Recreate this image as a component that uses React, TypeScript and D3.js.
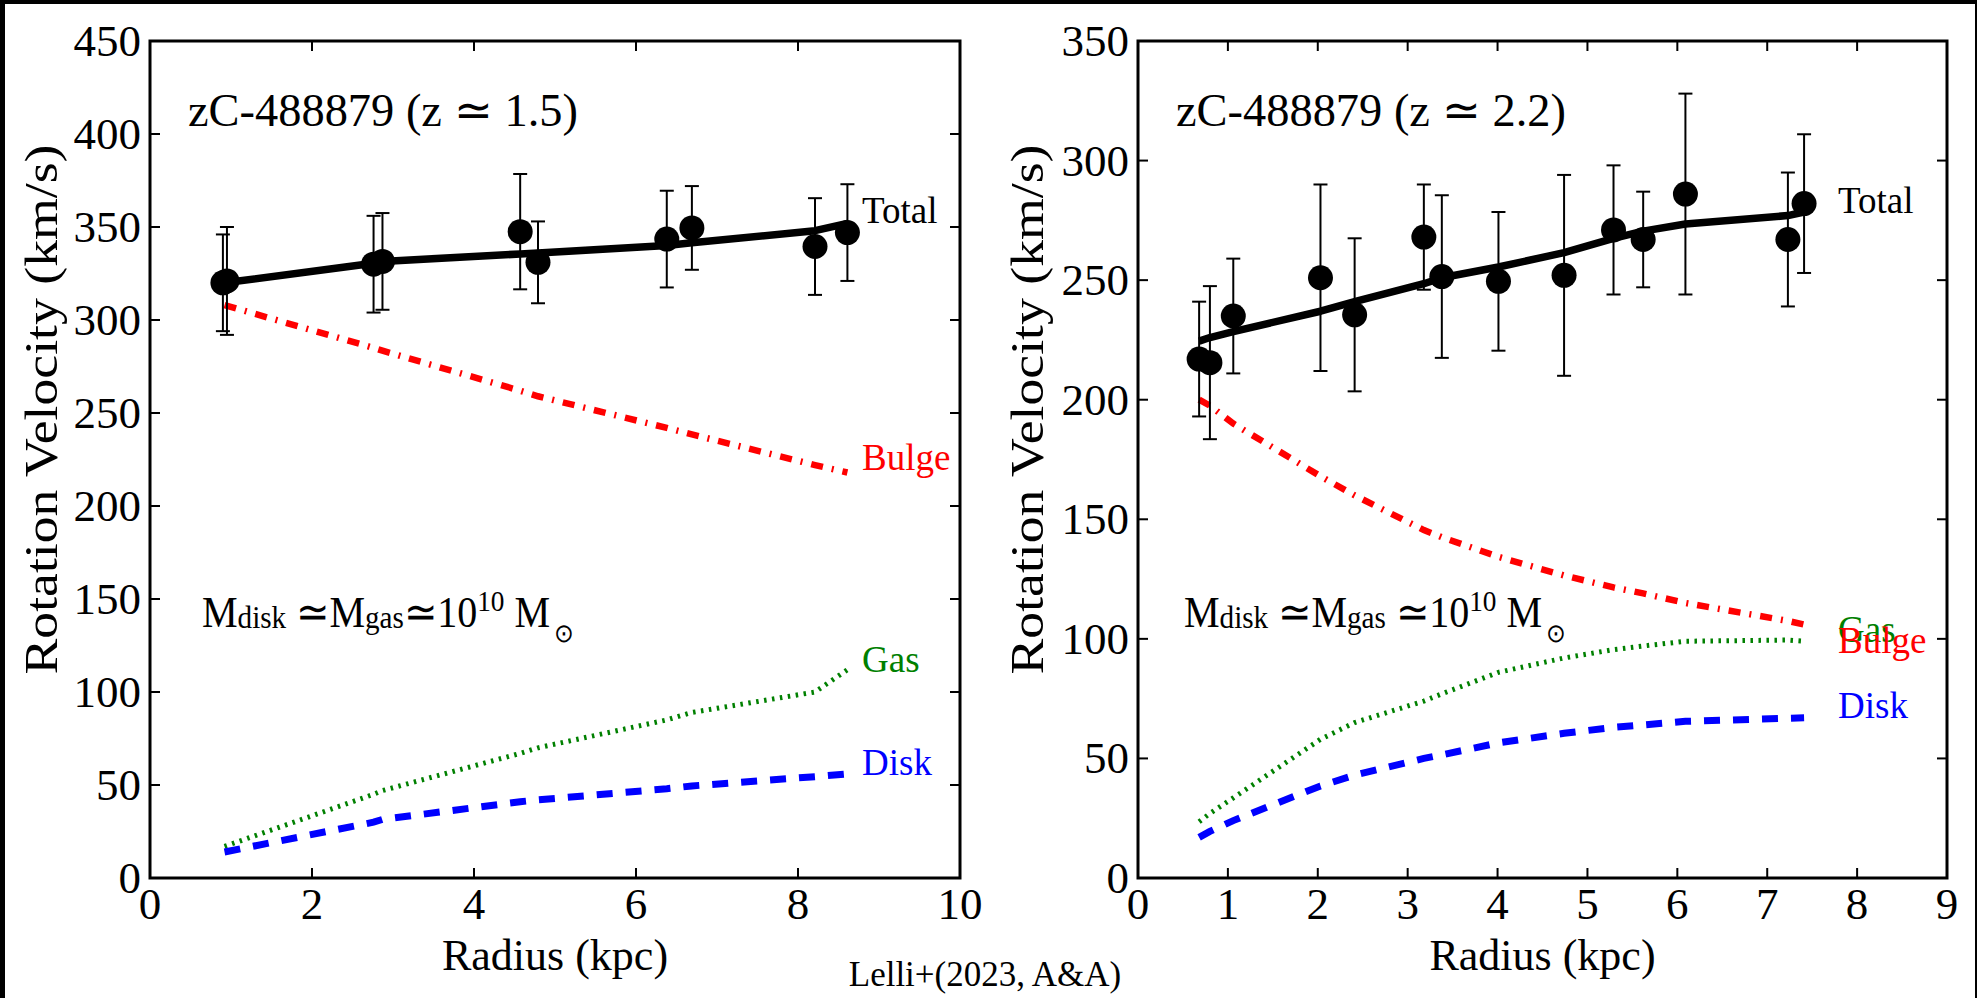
import React from "react";
import * as d3 from "d3";

const W = 1977;
const H = 998;

// ---------- Left panel: zC-488879 (z ~ 1.5) ----------
const leftObsR = [0.9, 0.95, 2.76, 2.87, 4.57, 4.79, 6.38, 6.69, 8.21, 8.61];
const leftObsV = [320, 321, 330, 331.5, 347.5, 331, 343.5, 349.5, 339.5, 347];
const leftObsErr = [26, 29, 26, 26, 31, 22, 26, 22.5, 26, 26];

const leftModelR = [0.92, 2.76, 2.87, 4.57, 4.79, 6.38, 6.69, 8.21, 8.61];
const leftTotal = [320, 330.5, 331.5, 335.5, 336, 340, 341.5, 348, 352];
const leftBulge = [308, 285, 283.5, 262, 259, 242, 238.5, 222, 218];
const leftGas = [17, 45, 47, 67, 70, 85, 89, 100, 112];
const leftDisk = [14, 30, 31.5, 41, 42, 48, 49.5, 54.5, 56];

const leftXTicks = [0, 2, 4, 6, 8, 10];
const leftYTicks = [0, 50, 100, 150, 200, 250, 300, 350, 400, 450];

// ---------- Right panel: zC-488879 (z ~ 2.2) ----------
const rightObsR = [0.68, 0.8, 1.06, 2.03, 2.41, 3.18, 3.38, 4.01, 4.74, 5.29, 5.62, 6.09, 7.23, 7.41];
const rightObsV = [217, 215.5, 235, 251, 235.5, 268, 251.5, 249.5, 252, 271, 267, 286, 267, 282];
const rightObsErr = [24, 32, 24, 39, 32, 22, 34, 29, 42, 27, 20, 42, 28, 29];

const rightModelR = [0.68, 0.8, 1.06, 2.03, 2.41, 3.18, 3.38, 4.01, 4.74, 5.29, 5.62, 6.09, 7.23, 7.41];
const rightTotal = [224.5, 226, 228.5, 237, 241, 248.5, 251, 255.5, 261.5, 267.5, 270.5, 273.5, 277, 278.5];
const rightBulge = [200, 197.5, 190, 168, 160, 145.5, 142.5, 134.3, 126.5, 121.5, 119, 115, 107.5, 106];
const rightGas = [23.5, 27, 33.5, 58, 65, 74, 77, 86, 92, 95.5, 97, 99, 99.5, 99];
const rightDisk = [17, 19.5, 24, 38.5, 43, 50, 51.5, 56.5, 60.5, 63, 64, 65.5, 66.8, 67];

const rightXTicks = [0, 1, 2, 3, 4, 5, 6, 7, 8, 9];
const rightYTicks = [0, 50, 100, 150, 200, 250, 300, 350];

const FONT = "Liberation Serif";

type PanelProps = {
  x0: number;
  x1: number;
  xMax: number;
  yMax: number;
  xTicks: number[];
  yTicks: number[];
  obsR: number[];
  obsV: number[];
  obsErr: number[];
  modelR: number[];
  total: number[];
  bulge: number[];
  gas: number[];
  disk: number[];
  title: string;
  yLabelX: number;
  labelX: number;
  labels: { text: string; y: number; color: string }[];
  massX: number;
  gasSpace: boolean;
  id: string;
};

const Y0 = 878;
const Y1 = 41;

function Panel(p: PanelProps) {
  const x = d3.scaleLinear().domain([0, p.xMax]).range([p.x0, p.x1]);
  const y = d3.scaleLinear().domain([0, p.yMax]).range([Y0, Y1]);
  const line = (vals: number[]) =>
    d3
      .line<number>()
      .x((_, i) => x(p.modelR[i]))
      .y((d) => y(d))(vals) || "";
  const tickLen = 10;
  const axisMid = (p.x0 + p.x1) / 2;
  return (
    <g>
      <defs>
        <clipPath id={p.id}>
          <rect x={p.x0} y={Y1} width={p.x1 - p.x0} height={Y0 - Y1} />
        </clipPath>
      </defs>
      {/* model curves */}
      <g clipPath={`url(#${p.id})`} fill="none">
        <path d={line(p.bulge)} stroke="#ff0000" strokeWidth={6.5} strokeDasharray="12 9 2 9" />
        <path d={line(p.gas)} stroke="#008000" strokeWidth={5} strokeDasharray="2.5 5.5" />
        <path d={line(p.disk)} stroke="#0000ff" strokeWidth={7} strokeDasharray="16 13" />
        <path d={line(p.total)} stroke="#000" strokeWidth={7.5} strokeLinejoin="round" />
      </g>
      {/* error bars and points */}
      <g stroke="#000" strokeWidth={2}>
        {p.obsR.map((r, i) => {
          const cx = x(r);
          const top = y(p.obsV[i] + p.obsErr[i]);
          const bot = y(p.obsV[i] - p.obsErr[i]);
          return (
            <g key={i}>
              <line x1={cx} x2={cx} y1={top} y2={bot} />
              <line x1={cx - 7} x2={cx + 7} y1={top} y2={top} />
              <line x1={cx - 7} x2={cx + 7} y1={bot} y2={bot} />
            </g>
          );
        })}
      </g>
      <g fill="#000">
        {p.obsR.map((r, i) => (
          <circle key={i} cx={x(r)} cy={y(p.obsV[i])} r={12.5} />
        ))}
      </g>
      {/* frame */}
      <rect x={p.x0} y={Y1} width={p.x1 - p.x0} height={Y0 - Y1} fill="none" stroke="#000" strokeWidth={3} />
      {/* ticks */}
      <g stroke="#000" strokeWidth={2}>
        {p.xTicks.map((t) => (
          <g key={"x" + t}>
            <line x1={x(t)} x2={x(t)} y1={Y0} y2={Y0 - tickLen} />
            <line x1={x(t)} x2={x(t)} y1={Y1} y2={Y1 + tickLen} />
          </g>
        ))}
        {p.yTicks.map((t) => (
          <g key={"y" + t}>
            <line x1={p.x0} x2={p.x0 + tickLen} y1={y(t)} y2={y(t)} />
            <line x1={p.x1} x2={p.x1 - tickLen} y1={y(t)} y2={y(t)} />
          </g>
        ))}
      </g>
      <g fontFamily={FONT} fontSize={45} fill="#000">
        {p.xTicks.map((t) => (
          <text key={"xl" + t} x={x(t)} y={919} textAnchor="middle">
            {t}
          </text>
        ))}
        {p.yTicks.map((t) => (
          <text key={"yl" + t} x={p.x0 - 9} y={y(t) + 15} textAnchor="end">
            {t}
          </text>
        ))}
      </g>
      {/* axis labels */}
      <text x={axisMid} y={970} textAnchor="middle" fontFamily={FONT} fontSize={44}>
        Radius (kpc)
      </text>
      <text
        transform={`translate(${p.yLabelX},${(Y0 + Y1) / 2 - 50}) rotate(-90)`}
        textAnchor="middle"
        fontFamily={FONT}
        fontSize={47}
        textLength={530}
        lengthAdjust="spacingAndGlyphs"
      >
        Rotation Velocity (km/s)
      </text>
      {/* title */}
      <text x={p.x0 + 38} y={126} fontFamily={FONT} fontSize={46} textLength={390} lengthAdjust="spacingAndGlyphs">
        {p.title}
      </text>
      {/* curve labels */}
      <g fontFamily={FONT} fontSize={37}>
        {p.labels.map((l) => (
          <text key={l.text} x={p.labelX} y={l.y} fill={l.color}>
            {l.text}
          </text>
        ))}
      </g>
      {/* mass label */}
      <g transform={`translate(${p.massX},627) scale(0.91,1)`}>
        <text x={0} y={0} fontFamily={FONT} fontSize={44}>
          <tspan>M</tspan>
          <tspan fontSize={32} dy={1}>disk</tspan>
          <tspan dy={-1}> ≃</tspan>
          <tspan>M</tspan>
          <tspan fontSize={32} dy={1}>gas</tspan>
          <tspan dy={-1}>{p.gasSpace ? " ≃" : "≃"}</tspan>
          <tspan>10</tspan>
          <tspan fontSize={30} dy={-16}>10</tspan>
          <tspan dy={16}> M</tspan>
          <tspan fontSize={26} dx={4} dy={15}>⊙</tspan>
        </text>
      </g>
    </g>
  );
}

export default function App() {
  return (
    <svg
      width={W}
      height={H}
      viewBox={`0 0 ${W} ${H}`}
      style={{ position: "fixed", left: 0, top: 0, background: "#fff" }}
    >
      <rect x={0} y={0} width={W} height={H} fill="#fff" />
      <Panel
        id="clipL"
        x0={150}
        x1={960}
        xMax={10}
        yMax={450}
        xTicks={leftXTicks}
        yTicks={leftYTicks}
        obsR={leftObsR}
        obsV={leftObsV}
        obsErr={leftObsErr}
        modelR={leftModelR}
        total={leftTotal}
        bulge={leftBulge}
        gas={leftGas}
        disk={leftDisk}
        title="zC-488879 (z ≃ 1.5)"
        yLabelX={57}
        labelX={862}
        labels={[
          { text: "Total", y: 223, color: "#000" },
          { text: "Bulge", y: 470, color: "#ff0000" },
          { text: "Gas", y: 672, color: "#008000" },
          { text: "Disk", y: 775, color: "#0000ff" },
        ]}
        massX={202}
        gasSpace={false}
      />
      <Panel
        id="clipR"
        x0={1138}
        x1={1947}
        xMax={9}
        yMax={350}
        xTicks={rightXTicks}
        yTicks={rightYTicks}
        obsR={rightObsR}
        obsV={rightObsV}
        obsErr={rightObsErr}
        modelR={rightModelR}
        total={rightTotal}
        bulge={rightBulge}
        gas={rightGas}
        disk={rightDisk}
        title="zC-488879 (z ≃ 2.2)"
        yLabelX={1043}
        labelX={1838}
        labels={[
          { text: "Total", y: 213, color: "#000" },
          { text: "Gas", y: 642, color: "#008000" },
          { text: "Bulge", y: 653, color: "#ff0000" },
          { text: "Disk", y: 718, color: "#0000ff" },
        ]}
        massX={1184}
        gasSpace={true}
      />
      <text x={985} y={986} textAnchor="middle" fontFamily={FONT} fontSize={35}>
        Lelli+(2023, A&amp;A)
      </text>
      {/* dark frame edges of the picture */}
      <rect x={0} y={0} width={W} height={4} fill="#000" />
      <rect x={0} y={0} width={5} height={H} fill="#000" />
      <rect x={W - 2} y={0} width={2} height={H} fill="#000" />
    </svg>
  );
}
